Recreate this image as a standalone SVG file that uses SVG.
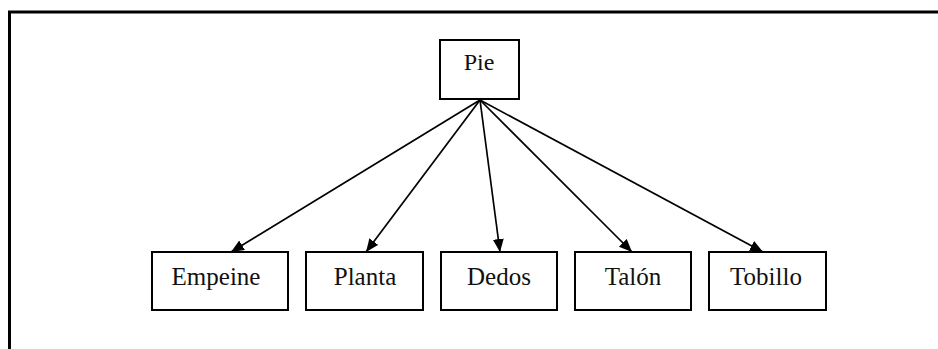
<svg xmlns="http://www.w3.org/2000/svg" width="938" height="349" viewBox="0 0 938 349">
<style>
.box{fill:#fff;stroke:#000;stroke-width:2}
.lbl{font-family:"Liberation Serif","Times New Roman",serif;font-size:25px;fill:#111;text-anchor:middle}
.edge{stroke:#000;stroke-width:1.7;fill:none;marker-end:url(#arr)}
</style>
<defs>
<marker id="arr" markerUnits="userSpaceOnUse" markerWidth="14" markerHeight="12" refX="13" refY="5.5" orient="auto">
<path d="M0,0 L13,5.5 L0,11 z" fill="#000"/>
</marker>
</defs>
<rect width="938" height="349" fill="#fff"/>
<path d="M9.5,349 L9.5,12 L938,12" fill="none" stroke="#000" stroke-width="3"/>
<g id="connectors">
<line class="edge" x1="480" y1="100" x2="231" y2="252"/>
<line class="edge" x1="480" y1="100" x2="366" y2="252"/>
<line class="edge" x1="480" y1="100" x2="500" y2="252"/>
<line class="edge" x1="480" y1="100" x2="632" y2="252"/>
<line class="edge" x1="480" y1="100" x2="763" y2="252"/>
</g>
<g id="pie">
<rect class="box" x="440" y="40" width="79" height="59"/>
<text class="lbl" x="479" y="70" style="font-size:24px">Pie</text>
</g>
<g id="empeine">
<rect class="box" x="152" y="252" width="136" height="58"/>
<text class="lbl" x="216" y="285">Empeine</text>
</g>
<g id="planta">
<rect class="box" x="306" y="252" width="117" height="58"/>
<text class="lbl" x="365" y="285">Planta</text>
</g>
<g id="dedos">
<rect class="box" x="441" y="252" width="116" height="58"/>
<text class="lbl" x="499" y="285">Dedos</text>
</g>
<g id="talon">
<rect class="box" x="575" y="252" width="116" height="58"/>
<text class="lbl" x="633" y="285">Talón</text>
</g>
<g id="tobillo">
<rect class="box" x="709" y="252" width="117" height="58"/>
<text class="lbl" x="766" y="285">Tobillo</text>
</g>
</svg>
